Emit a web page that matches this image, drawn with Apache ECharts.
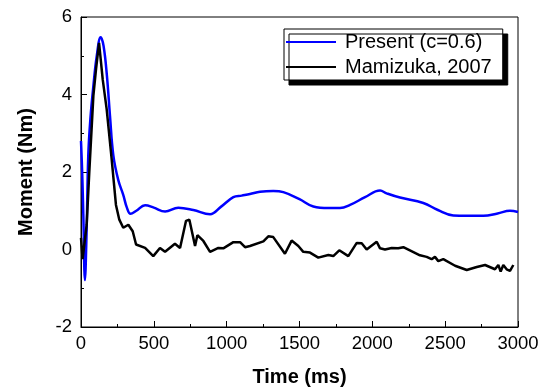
<!DOCTYPE html>
<html>
<head>
<meta charset="utf-8">
<script src="https://cdn.jsdelivr.net/npm/echarts@6/dist/echarts.min.js"></script>
<style>
html, body { margin: 0; padding: 0; background: #fff; }
#main { width: 549px; height: 392px; }
</style>
</head>
<body>
<div id="main"></div>
<script>
// Present (c=0.6)
var timeBlue = [0, 8, 16, 27, 38, 50, 65, 85, 108, 135, 155, 178, 199, 222, 256, 290, 315, 340, 380, 440, 500, 577, 668, 771, 886, 960, 1046, 1103, 1160, 1229, 1320, 1389, 1500, 1595, 1700, 1778, 1847, 1950, 2053, 2098, 2190, 2350, 2450, 2556, 2650, 2762, 2860, 2945, 3000];
var momentBlue = [2.8, 2.0, 0.9, -0.79, 0.4, 2.43, 3.4, 4.22, 4.99, 5.48, 5.25, 4.48, 3.45, 2.43, 1.79, 1.41, 1.08, 0.92, 1.0, 1.14, 1.08, 0.98, 1.08, 1.02, 0.91, 1.1, 1.35, 1.39, 1.43, 1.49, 1.51, 1.48, 1.3, 1.11, 1.07, 1.07, 1.15, 1.35, 1.52, 1.45, 1.34, 1.2, 1.02, 0.88, 0.87, 0.87, 0.93, 1.0, 0.97];

// Mamizuka, 2007
var timeBlack = [0, 11, 25, 39, 57, 85, 103, 124, 149, 176, 210, 240, 263, 290, 325, 355, 378, 440, 496, 542, 577, 645, 680, 721, 744, 783, 799, 840, 886, 943, 977, 1046, 1092, 1126, 1160, 1252, 1286, 1320, 1400, 1446, 1492, 1526, 1572, 1629, 1698, 1732, 1773, 1835, 1893, 1927, 1961, 2030, 2053, 2087, 2133, 2178, 2213, 2327, 2373, 2407, 2430, 2453, 2487, 2568, 2648, 2717, 2774, 2842, 2865, 2881, 2899, 2922, 2945, 2968];
var momentBlack = [0.3, -0.25, 0.2, 0.64, 2.0, 3.97, 4.65, 5.33, 4.39, 3.63, 2.35, 1.15, 0.77, 0.56, 0.64, 0.47, 0.13, 0.04, -0.17, 0.04, -0.06, 0.15, 0.04, 0.74, 0.77, 0.09, 0.37, 0.22, -0.06, 0.04, 0.03, 0.19, 0.19, 0.06, 0.09, 0.21, 0.34, 0.32, -0.11, 0.23, 0.09, -0.06, -0.08, -0.21, -0.14, -0.17, -0.02, -0.17, 0.17, 0.16, 0.0, 0.2, 0.03, 0.0, 0.04, 0.03, 0.06, -0.15, -0.19, -0.25, -0.19, -0.3, -0.25, -0.42, -0.53, -0.45, -0.4, -0.51, -0.4, -0.57, -0.4, -0.51, -0.55, -0.4];

var seriesNames = ['Present (c=0.6)', 'Mamizuka, 2007'];

function pairs(xs, ys) {
	var out = [];
	for (var i = 0; i < xs.length; i++) {
		out.push([xs[i], ys[i]]);
	}
	return out;
}

var chart = echarts.init(document.getElementById('main'));
var fontName = 'Liberation Sans, Arial, sans-serif';

var option = {
	animation: false,
	textStyle: { fontFamily: fontName },
	grid: {
		left: 81,
		top: 17,
		right: 31,
		bottom: 62,
		show: true,
		borderColor: '#000',
		borderWidth: 1
	},
	legend: {
		orient: 'vertical',
		left: 284,
		top: 29,
		padding: [3, 11, 3, 2],
		itemGap: 5,
		itemWidth: 50,
		itemHeight: 2,
		icon: 'rect',
		backgroundColor: '#fff',
		borderColor: '#000',
		borderWidth: 1,
		shadowColor: '#000',
		shadowBlur: 0,
		shadowOffsetX: 5,
		shadowOffsetY: 5,
		selectedMode: false,
		textStyle: {
			fontSize: 20,
			lineHeight: 20,
			color: '#000',
			fontFamily: fontName,
			padding: [0, 0, 0, 4]
		},
		data: seriesNames
	},
	xAxis: {
		type: 'value',
		min: 0,
		max: 3000,
		interval: 500,
		name: 'Time (ms)',
		nameLocation: 'middle',
		nameGap: 40,
		nameTextStyle: { fontSize: 20, fontWeight: 'bold', color: '#000', fontFamily: fontName },
		axisLine: { show: true, onZero: false, lineStyle: { color: '#000', width: 1 } },
		axisTick: { show: true, inside: true, length: 6, lineStyle: { color: '#000' } },
		minorTick: { show: true, splitNumber: 2, length: 3, lineStyle: { color: '#000' } },
		axisLabel: {
			fontSize: 18.5,
			color: '#000',
			margin: 7,
			fontFamily: fontName,
			formatter: function (v) { return String(v); }
		},
		splitLine: { show: false }
	},
	yAxis: {
		type: 'value',
		min: -2,
		max: 6,
		interval: 2,
		name: 'Moment (Nm)',
		nameLocation: 'middle',
		nameGap: 45,
		nameTextStyle: { fontSize: 20, fontWeight: 'bold', color: '#000', fontFamily: fontName },
		axisLine: { show: true, onZero: false, lineStyle: { color: '#000', width: 1 } },
		axisTick: { show: true, inside: true, length: 6, lineStyle: { color: '#000' } },
		minorTick: { show: true, splitNumber: 2, length: 3, lineStyle: { color: '#000' } },
		axisLabel: {
			fontSize: 18.5,
			color: '#000',
			margin: 9,
			fontFamily: fontName,
			formatter: function (v) { return String(v); }
		},
		splitLine: { show: false }
	},
	series: [
		{
			name: seriesNames[0],
			type: 'line',
			showSymbol: false,
			smooth: 0.4,
			color: '#0000ff',
			lineStyle: { color: '#0000ff', width: 2.5 },
			z: 3,
			data: pairs(timeBlue, momentBlue)
		},
		{
			name: seriesNames[1],
			type: 'line',
			showSymbol: false,
			smooth: false,
			color: '#000',
			lineStyle: { color: '#000', width: 2.5 },
			z: 4,
			data: pairs(timeBlack, momentBlack)
		}
	]
};

chart.setOption(option);
</script>
</body>
</html>
